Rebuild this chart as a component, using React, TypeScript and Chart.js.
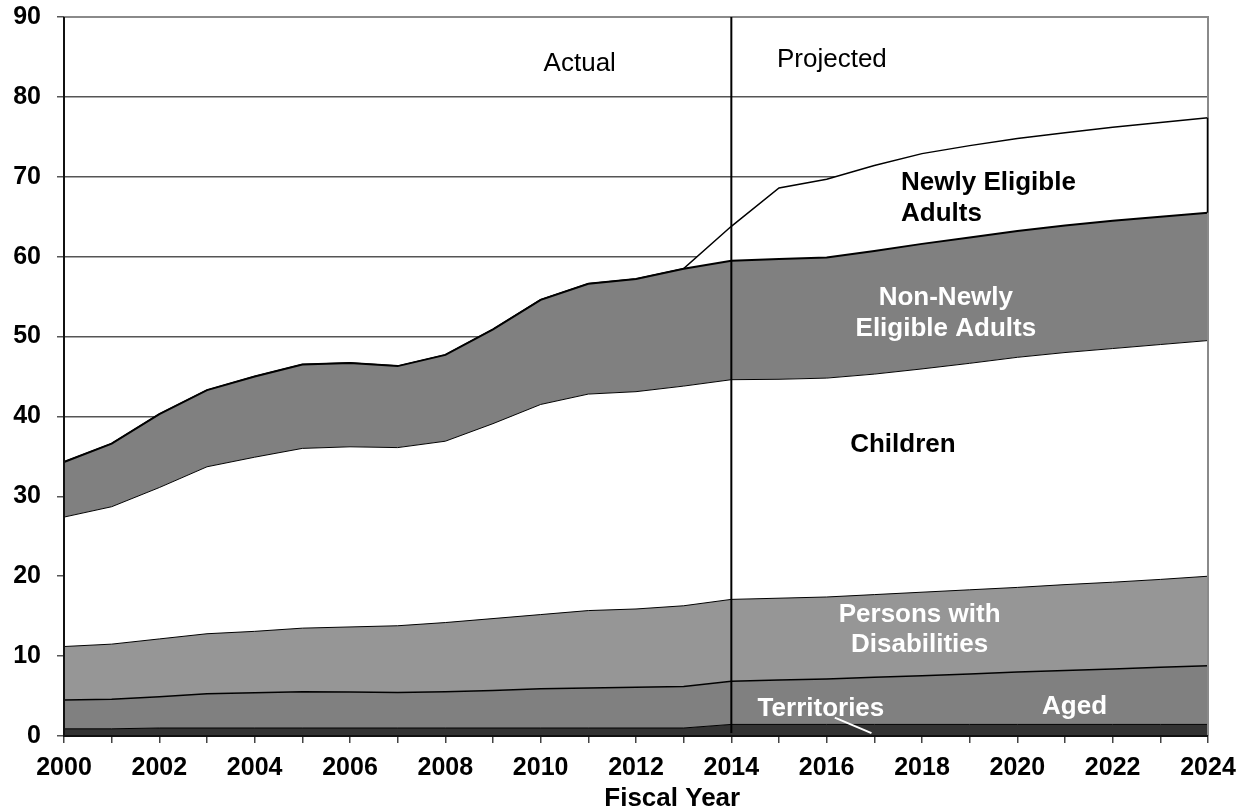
import React, { useEffect, useRef } from "react";
import { Chart, registerables } from "chart.js";

Chart.register(...registerables);

// Medicaid enrollment by eligibility group, millions (fiscal years)
const years = [
  "2000", "2001", "2002", "2003", "2004", "2005", "2006", "2007", "2008", "2009",
  "2010", "2011", "2012", "2013", "2014", "2015", "2016", "2017", "2018", "2019",
  "2020", "2021", "2022", "2023", "2024",
];

const territories = [
  0.9, 0.9, 1.0, 1.0, 1.0, 1.0, 1.0, 1.0, 1.0, 1.0, 1.0, 1.0, 1.0, 1.0,
  1.45, 1.45, 1.45, 1.45, 1.45, 1.45, 1.45, 1.45, 1.45, 1.45, 1.45,
];

const aged = [
  3.6, 3.7, 3.9, 4.3, 4.4, 4.55, 4.5, 4.45, 4.55, 4.7, 4.9, 5.0, 5.1, 5.2,
  5.4, 5.55, 5.7, 5.9, 6.1, 6.3, 6.55, 6.75, 6.95, 7.15, 7.35,
];

const disabilities = [
  6.7, 6.9, 7.25, 7.5, 7.7, 7.95, 8.15, 8.35, 8.65, 9.0, 9.3, 9.7, 9.8, 10.1,
  10.25, 10.25, 10.25, 10.35, 10.45, 10.55, 10.6, 10.75, 10.85, 11.0, 11.2,
];

const children = [
  16.2, 17.2, 18.95, 20.9, 21.8, 22.5, 22.55, 22.3, 22.7, 24.4, 26.3, 27.1, 27.2, 27.5,
  27.5, 27.4, 27.4, 27.6, 27.95, 28.35, 28.8, 29.05, 29.25, 29.4, 29.5,
];

const nonNewlyEligibleAdults = [
  6.9, 7.9, 9.2, 9.6, 10.1, 10.5, 10.5, 10.2, 10.8, 11.8, 13.1, 13.8, 14.1, 14.7,
  14.9, 15.05, 15.1, 15.4, 15.65, 15.75, 15.8, 15.9, 16.0, 16.0, 16.0,
];

const newlyEligibleAdults = [
  0, 0, 0, 0, 0, 0, 0, 0, 0, 0, 0, 0, 0, 0,
  4.3, 8.9, 9.8, 10.7, 11.3, 11.5, 11.6, 11.6, 11.7, 11.8, 11.9,
];

const yTicks = [0, 10, 20, 30, 40, 50, 60, 70, 80, 90];

const PROJECTION_START = "2014";
const FONT = '"Liberation Sans", Arial, Helvetica, sans-serif';

type Note = {
  lines: string[];
  year: number;
  value: number;
  align: CanvasTextAlign;
  color: string;
  weight: string;
  size: number;
  gap: number;
};

// Area labels, anchored in data space (year, value of the first baseline)
const notes: Note[] = [
  { lines: ["Newly Eligible", "Adults"], year: 2017.56, value: 68.3, align: "left", color: "#000", weight: "bold", size: 26, gap: 30.5 },
  { lines: ["Non-Newly", "Eligible Adults"], year: 2018.5, value: 53.9, align: "center", color: "#fff", weight: "bold", size: 26, gap: 31 },
  { lines: ["Children"], year: 2017.6, value: 35.5, align: "center", color: "#000", weight: "bold", size: 26, gap: 30 },
  { lines: ["Persons with", "Disabilities"], year: 2017.95, value: 14.33, align: "center", color: "#fff", weight: "bold", size: 26, gap: 30 },
  { lines: ["Territories"], year: 2015.88, value: 2.48, align: "center", color: "#fff", weight: "bold", size: 26, gap: 30 },
  { lines: ["Aged"], year: 2021.2, value: 2.78, align: "center", color: "#fff", weight: "bold", size: 26, gap: 30 },
  { lines: ["Actual"], year: 2010.82, value: 83.2, align: "center", color: "#000", weight: "normal", size: 26, gap: 30 },
  { lines: ["Projected"], year: 2016.11, value: 83.7, align: "center", color: "#000", weight: "normal", size: 26, gap: 30 },
];

const firstYear = Number(years[0]);

const overlayPlugin = {
  id: "overlay",
  afterDatasetsDraw(chart: any) {
    const { ctx, chartArea } = chart;
    const x = chart.scales.x;
    const y = chart.scales.y;
    const px = (yr: number) => x.getPixelForValue(yr - firstYear);
    const last = years.length - 1;

    ctx.save();

    // plot frame: grey top and right edges
    ctx.strokeStyle = "#8a8a8a";
    ctx.lineWidth = 2;
    ctx.beginPath();
    ctx.moveTo(chartArea.left, chartArea.top);
    ctx.lineTo(chartArea.right, chartArea.top);
    ctx.lineTo(chartArea.right, chartArea.bottom);
    ctx.stroke();

    // closing edge of the newly eligible band
    const nnTop =
      territories[last] + aged[last] + disabilities[last] + children[last] + nonNewlyEligibleAdults[last];
    const total = nnTop + newlyEligibleAdults[last];
    ctx.strokeStyle = "#000";
    ctx.lineWidth = 1.5;
    ctx.beginPath();
    ctx.moveTo(chartArea.right - 0.5, y.getPixelForValue(total));
    ctx.lineTo(chartArea.right - 0.5, y.getPixelForValue(nnTop));
    ctx.stroke();

    // actual / projected divider
    const splitX = x.getPixelForValue(years.indexOf(PROJECTION_START));
    ctx.lineWidth = 2;
    ctx.beginPath();
    ctx.moveTo(splitX, chartArea.top);
    ctx.lineTo(splitX, chartArea.bottom - 3);
    ctx.stroke();

    // axis lines
    ctx.strokeStyle = "#111";
    ctx.lineWidth = 2;
    ctx.beginPath();
    ctx.moveTo(chartArea.left, chartArea.top);
    ctx.lineTo(chartArea.left, chartArea.bottom);
    ctx.lineTo(chartArea.right, chartArea.bottom);
    ctx.stroke();

    // labels
    for (const n of notes) {
      ctx.font = `${n.weight} ${n.size}px ${FONT}`;
      ctx.fillStyle = n.color;
      ctx.textAlign = n.align;
      ctx.textBaseline = "alphabetic";
      const bx = px(n.year);
      const by = y.getPixelForValue(n.value);
      n.lines.forEach((line, i) => ctx.fillText(line, bx, by + i * n.gap));
    }

    // leader from the Territories label down to its band
    ctx.strokeStyle = "#fff";
    ctx.lineWidth = 2;
    ctx.beginPath();
    ctx.moveTo(px(2016.17), y.getPixelForValue(2.3));
    ctx.lineTo(px(2016.94), y.getPixelForValue(0.35));
    ctx.stroke();

    // axis title
    ctx.font = `bold 26px ${FONT}`;
    ctx.fillStyle = "#000";
    ctx.textAlign = "center";
    ctx.fillText("Fiscal Year", px(2012.76), chartArea.bottom + 70);

    ctx.restore();
  },
};

function area(label: string, data: number[], color: string, border: number, fill: string | boolean) {
  return {
    label,
    data,
    backgroundColor: color,
    borderColor: "#000",
    borderWidth: border,
    pointRadius: 0,
    pointHoverRadius: 0,
    tension: 0,
    fill,
  };
}

export default function App() {
  const canvasRef = useRef<HTMLCanvasElement | null>(null);

  useEffect(() => {
    const canvas = canvasRef.current;
    if (!canvas) return;

    const chart = new Chart(canvas, {
      type: "line",
      data: {
        labels: years,
        datasets: [
          area("Territories", territories, "#333333", 1, "origin"),
          area("Aged", aged, "#808080", 1.5, "-1"),
          area("Persons with Disabilities", disabilities, "#969696", 1, "-1"),
          area("Children", children, "#ffffff", 1, "-1"),
          area("Non-Newly Eligible Adults", nonNewlyEligibleAdults, "#808080", 2, "-1"),
          area("Newly Eligible Adults", newlyEligibleAdults, "#ffffff", 1.5, "-1"),
        ] as any,
      },
      options: {
        animation: false,
        responsive: false,
        devicePixelRatio: 1,
        layout: { padding: { top: 17, right: 39, left: 0, bottom: 0 } },
        plugins: {
          legend: { display: false },
          tooltip: { enabled: false },
        },
        scales: {
          x: {
            type: "category",
            offset: false,
            border: { display: false },
            grid: {
              drawOnChartArea: false,
              drawTicks: true,
              tickLength: 7,
              color: "#444",
              lineWidth: 1.5,
            },
            ticks: {
              autoSkip: false,
              maxRotation: 0,
              minRotation: 0,
              padding: 10,
              color: "#000",
              font: { family: FONT, size: 25, weight: "bold" },
              callback: function (this: any, value: any, index: number) {
                return index % 2 === 0 ? this.getLabelForValue(value) : "";
              },
            },
            afterFit(scale: any) {
              scale.height = 74;
              scale.paddingLeft = 0;
              scale.paddingRight = 0;
            },
          },
          y: {
            stacked: true,
            min: yTicks[0],
            max: yTicks[yTicks.length - 1],
            border: { display: false },
            grid: {
              color: "#555",
              lineWidth: 1.5,
              tickLength: 7,
            },
            ticks: {
              stepSize: 10,
              padding: 16,
              color: "#000",
              font: { family: FONT, size: 25, weight: "bold" },
            },
            afterBuildTicks(scale: any) {
              scale.ticks = yTicks.map((v) => ({ value: v }));
            },
            afterFit(scale: any) {
              scale.width = 64;
              scale.paddingTop = 0;
              scale.paddingBottom = 0;
            },
          },
        },
      } as any,
      plugins: [overlayPlugin],
    });

    return () => chart.destroy();
  }, []);

  return (
    <canvas
      ref={canvasRef}
      width={1247}
      height={810}
      style={{ position: "absolute", left: 0, top: 0, width: 1247, height: 810, background: "#fff" }}
    />
  );
}
